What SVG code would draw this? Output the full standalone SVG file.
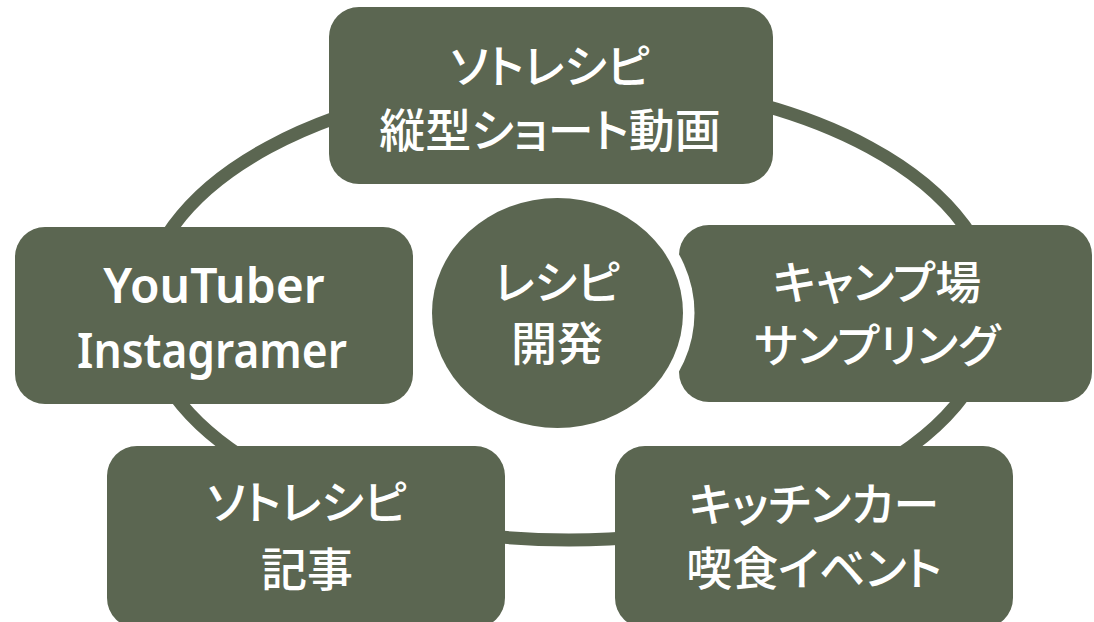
<svg xmlns="http://www.w3.org/2000/svg" width="1094" height="622" viewBox="0 0 1094 622">
<style>
.box{fill:#5b6651}
.ring{fill:none;stroke:#5b6651;stroke-width:13}
.jp{font-family:"Noto Sans CJK JP","Noto Sans",sans-serif;font-weight:500;font-size:46px;fill:#fff;text-anchor:middle;font-feature-settings:"palt"}
.en{font-family:"Noto Sans","Open Sans",sans-serif;font-weight:600;font-size:48px;fill:#fff;text-anchor:middle}
</style>
<rect width="1094" height="622" fill="#fff"/>
<g id="connectors">
<ellipse class="ring" cx="569" cy="310" rx="425" ry="230"/>
</g>
<g id="node-short-video">
<rect class="box" x="329" y="7" width="444" height="177" rx="30"/>
<text class="jp" x="550" y="83">ソトレシピ</text>
<text class="jp" x="550" y="147">縦型ショート動画</text>
</g>
<g id="node-youtuber">
<rect class="box" x="15" y="227" width="398" height="177" rx="30"/>
<text class="en" x="214" y="303">YouTuber</text>
<text class="en" x="212" y="368" textLength="270" lengthAdjust="spacingAndGlyphs">Instagramer</text>
</g>
<g id="node-camp">
<rect class="box" x="679" y="225" width="413" height="177" rx="30"/>
<text class="jp" x="877" y="299">キャンプ場</text>
<text class="jp" x="877" y="362">サンプリング</text>
</g>
<g id="node-article">
<rect class="box" x="107" y="446" width="398" height="182" rx="30"/>
<text class="jp" x="307" y="519">ソトレシピ</text>
<text class="jp" x="307" y="586">記事</text>
</g>
<g id="node-kitchencar">
<rect class="box" x="615" y="446" width="398" height="182" rx="30"/>
<text class="jp" x="814" y="521">キッチンカー</text>
<text class="jp" x="814" y="585">喫食イベント</text>
</g>
<g id="node-recipe">
<ellipse cx="557.5" cy="313" rx="137" ry="127" fill="#fff"/>
<ellipse class="box" cx="557.5" cy="313" rx="125.5" ry="115"/>
<text class="jp" x="557" y="299">レシピ</text>
<text class="jp" x="557" y="360">開発</text>
</g>
</svg>
